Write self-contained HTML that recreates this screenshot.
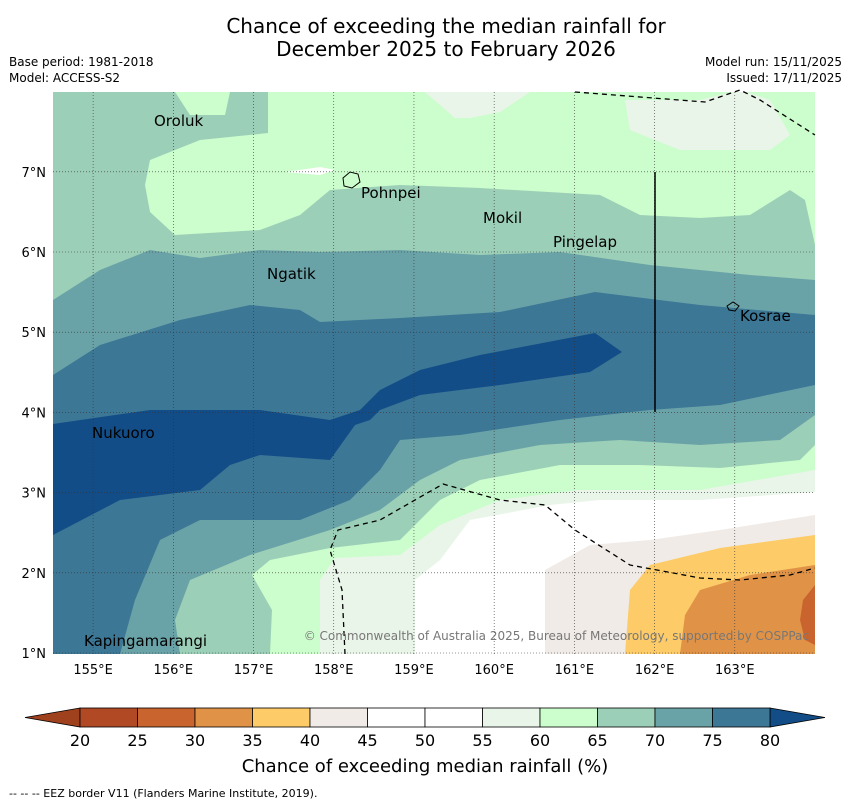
<!DOCTYPE html>
<html><head><meta charset="utf-8"><style>
body{margin:0;background:#fff;font-family:"Liberation Sans","DejaVu Sans",sans-serif}
svg text{font-family:"DejaVu Sans","Liberation Sans",sans-serif}
</style></head><body>
<svg id="s" width="850" height="804" viewBox="0 0 850 804" xmlns="http://www.w3.org/2000/svg">
<text x="446" y="33" font-size="20" text-anchor="middle">Chance of exceeding the median rainfall for</text>
<text x="446" y="56" font-size="20" text-anchor="middle">December 2025 to February 2026</text>
<text x="9" y="66" font-size="12">Base period: 1981-2018</text>
<text x="9" y="82" font-size="12">Model: ACCESS-S2</text>
<text x="842" y="66" font-size="12" text-anchor="end">Model run: 15/11/2025</text>
<text x="842" y="82" font-size="12" text-anchor="end">Issued: 17/11/2025</text>
<defs><clipPath id="mc"><rect x="53" y="92" width="762" height="562"/></clipPath></defs>
<g id="map" clip-path="url(#mc)"></g>
<g id="grid"></g>
<g id="over"></g>
<g id="cb"></g>
<text x="425" y="772" font-size="18" text-anchor="middle">Chance of exceeding median rainfall (%)</text>
<text x="9" y="797" font-size="11">-- -- -- EEZ border V11 (Flanders Marine Institute, 2019).</text>
</svg>
<script>
const levels=[20,25,30,35,40,45,50,55,60,65,70,75,80];
const colors=["#b14a24","#c9642f","#e09346","#fdcb68","#f0ebe7","#ffffff","#ffffff","#eaf5e9","#ccfdcc","#9ccfb7","#6aa3a7","#3c7796","#134d87"];
const lonTicks=[155,156,157,158,159,160,161,162,163];
const latTicks=[1,2,3,4,5,6,7];
const NS="http://www.w3.org/2000/svg";
const X=lon=>53+(lon-154.5)*(762/9.5);
const Y=lat=>653-(lat-1)*80.2;
function el(t,a,p){const e=document.createElementNS(NS,t);for(const k in a)e.setAttribute(k,a[k]);p.appendChild(e);return e;}
const map=document.getElementById('map');
// regions: [colorIndex, points(px)]
const regions=[
[11,"53,92 815,92 815,654 53,654"],
[10,"53,375 100,345 180,320 250,305 300,310 320,322 400,318 500,312 595,292 700,305 815,315 815,92 53,92"],
[9,"53,300 100,270 150,250 200,258 260,250 320,252 400,250 480,255 560,252 650,265 750,275 815,280 815,92 53,92"],
[8,"268,92 268,133 200,140 150,160 145,185 150,212 175,235 260,230 300,215 330,190 400,185 480,188 600,195 640,215 700,218 750,215 790,190 805,200 815,245 815,92"],
[8,"175,92 230,92 225,115 190,115"],
[7,"425,92 530,92 500,112 470,118 455,118"],
[7,"625,100 700,100 740,90 770,100 790,135 770,150 680,150 630,130"],
[6,"285,172 320,167 335,170 320,175"],
[12,"53,424 150,410 260,410 330,420 360,410 380,390 420,370 480,355 595,333 622,352 590,372 500,385 420,395 380,410 370,420 355,425 330,460 260,455 230,465 200,490 120,500 53,535"],
[10,"120,654 135,600 160,540 200,520 300,520 350,500 380,470 400,440 460,435 560,420 650,410 720,405 815,385 815,654"],
[9,"180,654 175,620 190,580 250,555 330,530 380,510 420,480 460,460 540,445 620,440 700,445 780,440 815,415 815,654"],
[8,"270,654 272,610 252,575 270,560 330,548 400,540 440,500 480,480 560,465 640,465 720,468 800,460 815,445 815,654"],
[7,"320,654 320,580 335,558 400,555 440,525 500,500 580,490 700,490 815,470 815,654"],
[6,"415,654 415,580 440,560 470,520 550,505 600,500 700,500 815,492 815,654"],
[4,"545,654 545,570 590,545 650,540 720,530 815,515 815,654"],
[3,"625,654 630,590 650,565 720,548 815,535 815,654"],
[2,"680,654 685,615 700,590 750,575 815,565 815,654"],
[1,"815,585 803,600 800,620 805,640 815,645"]];
regions.forEach((r,i)=>{const p=el('polygon',{points:r[1],fill:colors[r[0]]},map);

});
// grid
const g=document.getElementById('grid');
lonTicks.forEach(l=>{const x=X(l);el('line',{x1:x,y1:92,x2:x,y2:654,stroke:'#333','stroke-width':0.6,'stroke-dasharray':'1,2'},g);
const t=el('text',{x:x,y:674,'font-size':13,'text-anchor':'middle'},g);t.textContent=l+'°E';
});
latTicks.forEach(l=>{const y=Y(l);el('line',{x1:53,y1:y,x2:815,y2:y,stroke:'#333','stroke-width':0.6,'stroke-dasharray':'1,2'},g);
const t=el('text',{x:46,y:y+5,'font-size':13,'text-anchor':'end'},g);t.textContent=l+'°N';
});
const o=document.getElementById('over');
el('polyline',{points:"575,92 705,102 740,90 760,100 815,135",fill:'none',stroke:'#000','stroke-width':1.3,'stroke-dasharray':'5,4'},o);
el('polyline',{points:"345,654 342,590 330,550 338,530 380,520 443,484 500,500 545,505 575,530 630,565 700,578 740,580 790,575 815,568",fill:'none',stroke:'#000','stroke-width':1.3,'stroke-dasharray':'5,4'},o);
el('line',{x1:655,y1:172,x2:655,y2:412,stroke:'#000','stroke-width':1.5},o);
el('path',{d:"M343,178 L350,172 L358,174 L360,182 L352,188 L344,186Z",fill:'none',stroke:'#000','stroke-width':1},o);
el('path',{d:"M727,306 L733,302 L739,306 L735,311 L729,310Z",fill:'none',stroke:'#000','stroke-width':1},o);
const places=[["Oroluk",154,126],["Pohnpei",361,198],["Mokil",483,223],["Pingelap",553,247],["Ngatik",267,279],["Kosrae",740,321],["Nukuoro",92,438],["Kapingamarangi",84,646]];
places.forEach(p=>{const t=el('text',{x:p[1],y:p[2],'font-size':15},o);t.textContent=p[0];
});
const c=el('text',{x:809,y:640,'font-size':12,'text-anchor':'end',fill:'#777'},o);c.textContent="© Commonwealth of Australia 2025, Bureau of Meteorology, supported by COSPPac";

// colorbar
const cb=document.getElementById('cb');const x0=80,w=57.5,y0=708,h=19;
el('polygon',{points:`${x0},${y0} 25,${y0+h/2} ${x0},${y0+h}`,fill:'#a0411e',stroke:'#000','stroke-width':0.8},cb);
el('polygon',{points:`${x0+12*w},${y0} 825,${y0+h/2} ${x0+12*w},${y0+h}`,fill:colors[12],stroke:'#000','stroke-width':0.8},cb);
for(let i=0;i<12;i++){const r=el('rect',{x:x0+i*w,y:y0,width:w,height:h,fill:colors[i],stroke:'#000','stroke-width':0.8},cb);
}
levels.forEach((l,i)=>{const t=el('text',{x:x0+i*w,y:746,'font-size':16,'text-anchor':'middle'},cb);t.textContent=l;
});
</script>
</body></html>
